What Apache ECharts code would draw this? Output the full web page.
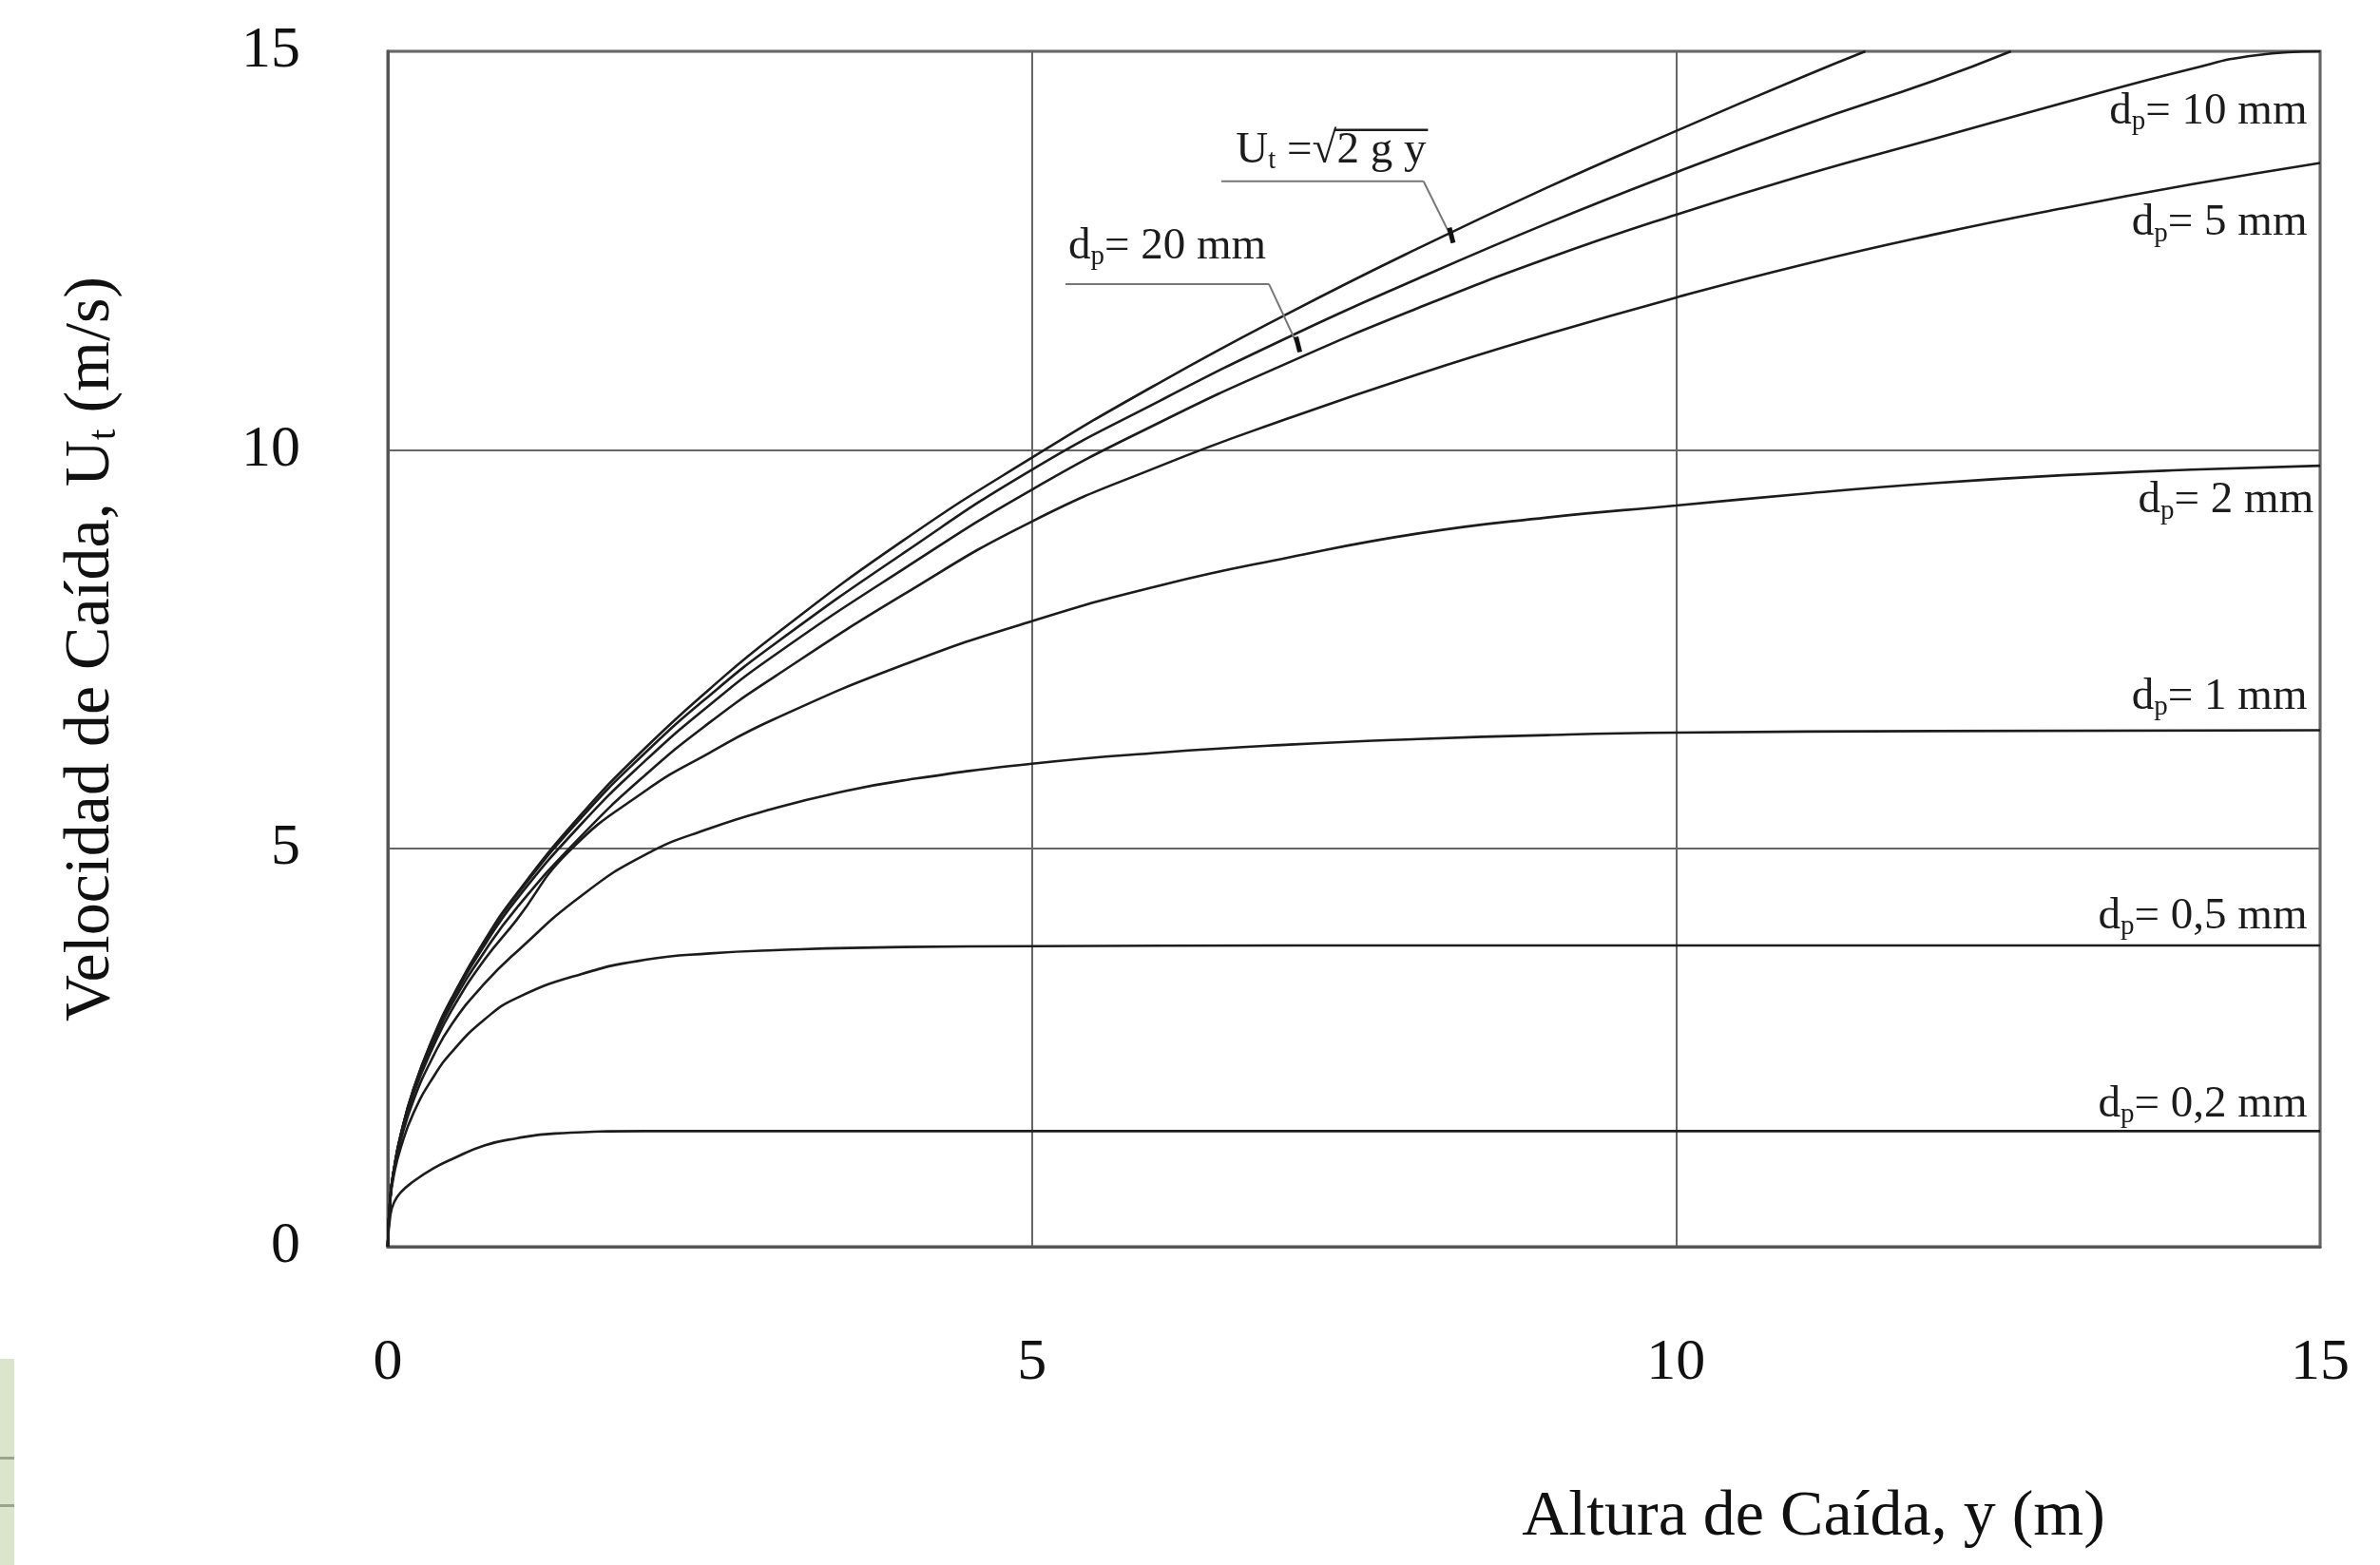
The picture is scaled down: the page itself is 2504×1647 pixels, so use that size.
<!DOCTYPE html>
<html>
<head>
<meta charset="utf-8">
<script src="https://cdn.jsdelivr.net/npm/echarts@6/dist/echarts.min.js"></script>
<style>
html,body{margin:0;padding:0;background:#fff;}
#c{width:2504px;height:1647px;}
</style>
</head>
<body>
<div id="c"></div>
<script>
// ---- data ----
const xTicks = [0, 5, 10, 15];
const yTicks = [0, 5, 10, 15];

const utIdeal = [[0,0],[0.02,0.63],[0.05,0.99],[0.1,1.4],[0.2,1.98],[0.35,2.62],[0.5,3.13],[0.75,3.84],[1,4.43],[1.5,5.42],[2,6.26],[2.5,7.0],[3,7.67],[4,8.86],[5,9.9],[6,10.85],[7,11.72],[8,12.53],[9,13.29],[10,14.0],[11,14.69],[11.47,15]];
const d20mm = [[0,0],[0.02,0.63],[0.05,0.99],[0.1,1.4],[0.2,1.98],[0.35,2.61],[0.5,3.12],[0.75,3.82],[1,4.41],[1.5,5.38],[2,6.2],[2.5,6.92],[3,7.56],[4,8.7],[5,9.75],[6,10.62],[7,11.42],[8,12.15],[9,12.84],[10,13.48],[11,14.08],[12,14.63],[12.6,15]];
const d10mm = [[0,0],[0.02,0.63],[0.05,0.99],[0.1,1.4],[0.2,1.97],[0.35,2.6],[0.5,3.1],[0.75,3.78],[1,4.36],[1.5,5.3],[2,6.1],[2.5,6.8],[3,7.42],[4,8.5],[5,9.5],[6,10.35],[7,11.1],[8,11.78],[9,12.4],[10,12.95],[11,13.45],[12,13.9],[13,14.35],[14,14.78],[14.5,14.95],[15,15]];
const d5mm = [[0,0],[0.02,0.63],[0.05,0.99],[0.1,1.39],[0.2,1.95],[0.35,2.56],[0.5,3.05],[0.75,3.7],[1,4.25],[1.5,5.15],[2,5.92],[2.5,6.58],[3,7.15],[4,8.18],[5,9.1],[6,9.8],[7,10.4],[8,10.95],[9,11.45],[10,11.91],[11,12.33],[12,12.7],[13,13.03],[14,13.33],[15,13.6]];
const d2mm = [[0,0],[0.02,0.63],[0.05,0.98],[0.1,1.38],[0.2,1.92],[0.35,2.5],[0.5,2.98],[0.75,3.6],[1,4.1],[1.4,4.95],[2,5.72],[2.5,6.2],[3,6.62],[4,7.3],[5,7.85],[6,8.3],[7,8.65],[8,8.95],[9,9.15],[10,9.3],[11,9.45],[12,9.58],[13,9.68],[14,9.75],[15,9.8]];
const d1mm = [[0,0],[0.02,0.62],[0.05,0.96],[0.1,1.33],[0.2,1.84],[0.35,2.38],[0.5,2.8],[0.75,3.3],[1,3.7],[1.5,4.4],[2,4.92],[2.5,5.25],[3,5.5],[3.5,5.7],[4,5.85],[5,6.06],[6,6.2],[7,6.3],[8,6.37],[9,6.42],[10,6.45],[12,6.47],[15,6.48]];
const d05mm = [[0,0],[0.02,0.6],[0.05,0.92],[0.1,1.24],[0.2,1.68],[0.35,2.12],[0.5,2.45],[0.75,2.85],[1,3.12],[1.5,3.42],[2,3.6],[2.5,3.68],[3,3.72],[4,3.76],[5,3.77],[7,3.78],[15,3.78]];
const d02mm = [[0,0],[0.02,0.4],[0.05,0.56],[0.1,0.68],[0.2,0.82],[0.35,0.98],[0.5,1.1],[0.75,1.27],[1,1.36],[1.3,1.42],[2,1.45],[15,1.45]];

const seriesNames = ['Ut = √(2gy)', 'dp = 20 mm', 'dp = 10 mm', 'dp = 5 mm', 'dp = 2 mm', 'dp = 1 mm', 'dp = 0,5 mm', 'dp = 0,2 mm'];
const seriesData = [utIdeal, d20mm, d10mm, d5mm, d2mm, d1mm, d05mm, d02mm];

// right-side label texts
const rightLabelText = ['10 mm', '5 mm', '2 mm', '1 mm', '0,5 mm', '0,2 mm'];

// ---- layout / annotation anchors (in data units) ----
const rightLabelAnchor = [[14.9,14.24],[14.9,12.84],[14.95,9.36],[14.9,6.9],[14.9,4.14],[14.9,1.78]];
const lbl20 = {text:[6.05,12.55], under:[[5.26,12.08],[6.84,12.08]], leader:[[6.84,12.08],[7.08,11.25]]};
const lblUt = {textEnd:[8.06,13.75], under:[[6.47,13.37],[8.04,13.37]], leader:[[8.04,13.37],[8.27,12.62]]};

const FONT = '"Liberation Serif", "Times New Roman", serif';
const INK = '#1c1c1c';
const LBL = 47;

const chart = echarts.init(document.getElementById('c'), null, {renderer:'canvas'});

const series = seriesData.map((d, i) => ({
  name: seriesNames[i],
  type: 'line',
  data: d,
  smooth: 0.5,
  symbol: 'none',
  clip: true,
  silent: true,
  lineStyle: {color: INK, width: 2.6},
  z: 5
}));

chart.setOption({
  animation: false,
  backgroundColor: '#ffffff',
  grid: {left: 408, right: 63, top: 54, bottom: 335, show: true, borderColor: '#555', borderWidth: 3, backgroundColor: 'transparent'},
  xAxis: {
    type: 'value', min: 0, max: 15, interval: 5,
    axisLine: {show: true, onZero: false, lineStyle: {color: '#555', width: 3}},
    axisTick: {show: false},
    splitLine: {show: true, lineStyle: {color: '#666', width: 2}},
    axisLabel: {margin: 92, fontFamily: FONT, fontSize: 62, color: '#111',
      formatter: v => xTicks.includes(v) ? String(v) : ''}
  },
  yAxis: {
    type: 'value', min: 0, max: 15, interval: 5,
    axisLine: {show: true, onZero: false, lineStyle: {color: '#555', width: 3}},
    axisTick: {show: false},
    splitLine: {show: true, lineStyle: {color: '#666', width: 2}},
    axisLabel: {margin: 92, fontFamily: FONT, fontSize: 62, color: '#111',
      formatter: v => yTicks.includes(v) ? String(v) : ''}
  },
  series: series
});

// ---- annotations placed through the chart's own scales ----
const px = p => chart.convertToPixel({gridIndex: 0}, p);
const richDp = {
  m: {fontFamily: FONT, fontSize: LBL, fill: INK, color: INK},
  s: {fontFamily: FONT, fontSize: 29, fill: INK, color: INK, padding: [22, 0, 0, 0]}
};
const g = [];

rightLabelText.forEach((t, i) => {
  const p = px(rightLabelAnchor[i]);
  g.push({type: 'text', x: p[0], y: p[1], z: 20, style: {
    text: '{m|d}{s|p}{m|= ' + t + '}', rich: richDp, align: 'right', verticalAlign: 'middle',
    fill: INK, font: LBL + 'px ' + FONT
  }});
});

// dp = 20 mm label with underline and leader
{
  const p = px(lbl20.text);
  g.push({type: 'text', x: p[0], y: p[1], z: 20, style: {
    text: '{m|d}{s|p}{m|= 20 mm}', rich: richDp, align: 'center', verticalAlign: 'middle', fill: INK, font: LBL + 'px ' + FONT
  }});
  [lbl20.under, lbl20.leader].forEach(seg => {
    const a = px(seg[0]), b = px(seg[1]);
    g.push({type: 'line', z: 20, shape: {x1: a[0], y1: a[1], x2: b[0], y2: b[1]}, style: {stroke: '#777', lineWidth: 2}});
  });
  const b = px(lbl20.leader[1]);
  g.push({type: 'line', z: 21, shape: {x1: b[0] - 4, y1: b[1] - 14, x2: b[0], y2: b[1] + 2}, style: {stroke: '#111', lineWidth: 5}});
}

// Ut label
{
  const p = px(lblUt.textEnd);
  const ctx = document.createElement('canvas').getContext('2d');
  ctx.font = LBL + 'px ' + FONT;
  const wRad = ctx.measureText('2 g y').width;
  g.push({type: 'text', x: p[0], y: p[1], z: 20, style: {
    text: '{m|U}{s|t}{m| =√2 g y}', rich: richDp, align: 'right', verticalAlign: 'middle', fill: INK, font: LBL + 'px ' + FONT
  }});
  // overline of the radical
  g.push({type: 'line', z: 20, shape: {x1: p[0] - wRad - 2, y1: p[1] - 22, x2: p[0] + 2, y2: p[1] - 22}, style: {stroke: INK, lineWidth: 2.5}});
  [lblUt.under, lblUt.leader].forEach(seg => {
    const a = px(seg[0]), b = px(seg[1]);
    g.push({type: 'line', z: 20, shape: {x1: a[0], y1: a[1], x2: b[0], y2: b[1]}, style: {stroke: '#777', lineWidth: 2}});
  });
  const b = px(lblUt.leader[1]);
  g.push({type: 'line', z: 21, shape: {x1: b[0] - 4, y1: b[1] - 14, x2: b[0], y2: b[1] + 2}, style: {stroke: '#111', lineWidth: 5}});
}

// axis titles
g.push({type: 'text', x: 1908, y: 1597, z: 20, style: {
  text: 'Altura de Caída, y (m)', align: 'center', verticalAlign: 'middle', fill: '#111', font: '68px ' + FONT
}});
g.push({type: 'text', x: 96, y: 683, rotation: Math.PI / 2, z: 20, style: {
  text: '{m|Velocidad de Caída, U}{s|t}{m| (m/s)}', align: 'center', verticalAlign: 'middle', fill: '#111', font: '68px ' + FONT,
  rich: {m: {fontFamily: FONT, fontSize: 68, fill: '#111'}, s: {fontFamily: FONT, fontSize: 42, fill: '#111', padding: [28, 0, 0, 0]}}
}});

// scan artefact strip at bottom-left
g.push({type: 'rect', z: 1, shape: {x: 0, y: 1430, width: 15, height: 217}, style: {fill: '#dbe5cc'}});
g.push({type: 'rect', z: 2, shape: {x: 0, y: 1533, width: 15, height: 3}, style: {fill: '#9aa58c'}});
g.push({type: 'rect', z: 2, shape: {x: 0, y: 1583, width: 15, height: 3}, style: {fill: '#9aa58c'}});

chart.setOption({graphic: g});
</script>
</body>
</html>
